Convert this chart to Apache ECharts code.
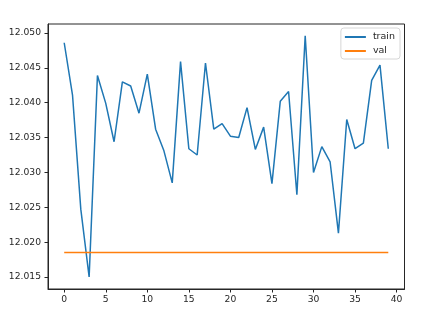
<!DOCTYPE html>
<html>
<head>
<meta charset="utf-8">
<script src="https://cdn.jsdelivr.net/npm/echarts@6/dist/echarts.min.js"></script>
<style>html,body{margin:0;padding:0;background:#fff}#c{width:421px;height:318px}</style>
</head>
<body>
<div id="c"></div>
<script>
const epochs = Array.from({length: 40}, (_, i) => i);
const train = [12.0486, 12.0411, 12.0247, 12.0150, 12.0439, 12.0399, 12.0344, 12.0430, 12.0424, 12.0385,
               12.0441, 12.0362, 12.0331, 12.0285, 12.0459, 12.0334, 12.0325, 12.0457, 12.0362, 12.0370,
               12.0352, 12.0350, 12.0393, 12.0333, 12.0365, 12.0284, 12.0402, 12.0416, 12.0268, 12.0496,
               12.0300, 12.0337, 12.0315, 12.0213, 12.0376, 12.0334, 12.0342, 12.0432, 12.0454, 12.0334];
const val = [12.0185, 12.0185, 12.0185, 12.0185, 12.0185, 12.0185, 12.0185, 12.0185, 12.0185, 12.0185,
             12.0185, 12.0185, 12.0185, 12.0185, 12.0185, 12.0185, 12.0185, 12.0185, 12.0185, 12.0185,
             12.0185, 12.0185, 12.0185, 12.0185, 12.0185, 12.0185, 12.0185, 12.0185, 12.0185, 12.0185,
             12.0185, 12.0185, 12.0185, 12.0185, 12.0185, 12.0185, 12.0185, 12.0185, 12.0185, 12.0185];
const xTicks = [0, 5, 10, 15, 20, 25, 30, 35, 40];
const yTicks = [12.015, 12.020, 12.025, 12.030, 12.035, 12.040, 12.045, 12.050];

const font = 'DejaVu Sans';
const chart = echarts.init(document.getElementById('c'), null, {renderer: 'canvas'});
chart.setOption({
  animation: false,
  textStyle: {fontFamily: font},
  grid: {left: 48, top: 24, right: 16.5, bottom: 29, show: true, borderColor: '#262626', borderWidth: 1, containLabel: false},
  legend: {
    orient: 'vertical', right: 21, top: 28,
    padding: [4, 5, 3, 4], itemGap: 4,
    itemWidth: 21, itemHeight: 2, icon: 'rect',
    borderColor: '#d6d6d6', borderWidth: 1, borderRadius: 3, backgroundColor: 'rgba(255,255,255,0.8)',
    textStyle: {fontFamily: font, fontSize: 9.5, color: '#262626', padding: [0, 0, 0, 2]},
    data: ['train', 'val']
  },
  xAxis: {
    type: 'value', min: -1.95, max: 40.95,
    splitLine: {show: false},
    axisLine: {show: true, onZero: false, lineStyle: {color: '#262626', width: 1}},
    axisTick: {show: true, length: 3.5, customValues: xTicks, lineStyle: {color: '#262626'}},
    axisLabel: {customValues: xTicks, margin: 6, fontSize: 9.2, color: '#262626', fontFamily: font}
  },
  yAxis: {
    type: 'value', min: 12.01328, max: 12.05129,
    splitLine: {show: false},
    axisLine: {show: true, onZero: false, lineStyle: {color: '#262626', width: 1}},
    axisTick: {show: true, length: 3.5, customValues: yTicks, lineStyle: {color: '#262626'}},
    axisLabel: {customValues: yTicks, margin: 7, fontSize: 9.2, color: '#262626', fontFamily: font,
                formatter: v => v.toFixed(3)}
  },
  series: [
    {name: 'train', type: 'line', data: epochs.map((e, i) => [e, train[i]]), showSymbol: false, symbol: 'none',
     lineStyle: {color: '#1f77b4', width: 1.5}, itemStyle: {color: '#1f77b4'}},
    {name: 'val', type: 'line', data: epochs.map((e, i) => [e, val[i]]), showSymbol: false, symbol: 'none',
     lineStyle: {color: '#ff7f0e', width: 1.5}, itemStyle: {color: '#ff7f0e'}}
  ]
});
</script>
</body>
</html>
